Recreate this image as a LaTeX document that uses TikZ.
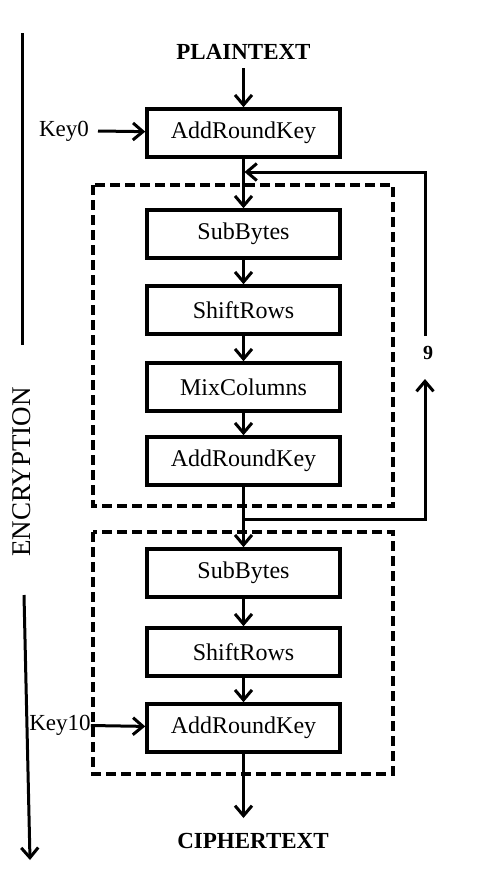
\documentclass[tikz,border=0pt]{standalone}
\usepackage{fontspec}
\setmainfont{Liberation Serif}
\usetikzlibrary{arrows.meta}

\begin{document}
\begin{tikzpicture}[x=1pt,y=-1pt,
  stage/.style={draw,line width=3.5pt,minimum width=193pt,minimum height=48pt,inner sep=0pt,font=\fontsize{24}{28}\selectfont},
  keylbl/.style={inner sep=0pt,font=\fontsize{23}{26}\selectfont},
  endlbl/.style={inner sep=0pt,font=\fontsize{23}{26}\selectfont\bfseries},
  flow/.style={line width=3pt,-{Straight Barb[length=10pt,width=17pt,line width=3pt]}},
  roundbox/.style={draw,line width=3.2pt,dash pattern=on 10pt off 5pt}]
\def\xc{243.5}
\useasboundingbox (0,0) rectangle (494,884);
  % dashed round groups
  \draw[roundbox] (93,185) rectangle (393,506);
  \draw[roundbox] (93,532) rectangle (393,774);
  % stages
  \node[endlbl] (plain) at (\xc,52) {PLAINTEXT};
  \node[stage] (ark0) at (\xc,133) {AddRoundKey};
  \node[stage] (sb1) at (\xc,234) {SubBytes};
  \node[stage] (sr1) at (\xc,310) {ShiftRows};
  \node[stage] (mc) at (\xc,387) {MixColumns};
  \node[stage] (ark1) at (\xc,461) {AddRoundKey};
  \node[stage] (sb2) at (\xc,573) {SubBytes};
  \node[stage] (sr2) at (\xc,652) {ShiftRows};
  \node[stage] (ark2) at (\xc,728) {AddRoundKey};
  \node[endlbl] (cipher) at (253,841) {CIPHERTEXT};
  \node[keylbl] (key0) at (64,131) {Key0};
  \node[keylbl] (key10) at (60,725) {Key10};
  \node[endlbl,font=\fontsize{20}{22}\selectfont\bfseries] (nine) at (428,353) {9};
  \node[keylbl,font=\fontsize{27}{30}\selectfont,rotate=90] (enc) at (22,472) {ENCRYPTION};
  % main flow
  \coordinate (plainout) at (\xc,68);
  \coordinate (key0out) at (98,131);
  \coordinate (cipherin) at (\xc,818);
  \draw[flow] (plainout) -- (ark0);
  \draw[flow] (key0out) -- (ark0);
  \foreach \a/\b in {ark0/sb1,sb1/sr1,sr1/mc,mc/ark1,ark1/sb2,sb2/sr2,sr2/ark2}
    \draw[flow] (\a) -- (\b);
  \draw[flow] (key10) -- (ark2);
  \draw[flow] (ark2) -- (cipherin);
  % round loop
  \coordinate (loopa) at (425,519);
  \coordinate (loopb) at (425,379);
  \coordinate (loopc) at (425,336);
  \coordinate (loopd) at (425,172);
  \draw[flow] (ark1.south |- loopa) -- (loopa) -- (loopb);
  \draw[flow] (loopc) -- (loopd) -- ([xshift=1pt]ark0.south |- loopd);
  % side marker
  \coordinate (sidetop) at (22,33);
  \coordinate (sidebot) at (30,860);
  \draw[line width=3pt] (sidetop) -- (enc.east |- 0,345);
  \draw[flow] (24,595) -- (sidebot);
\end{tikzpicture}
\end{document}
